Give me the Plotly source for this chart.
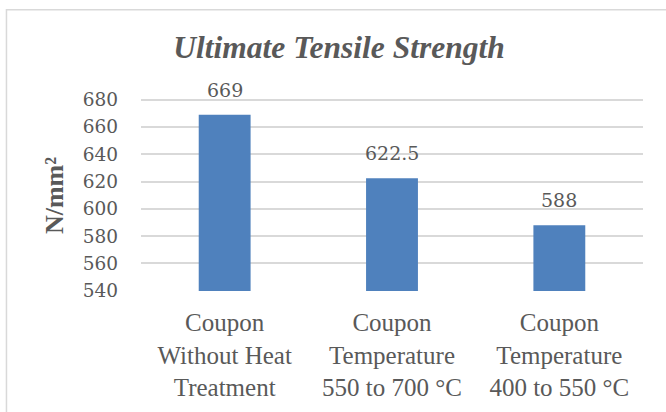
import plotly.graph_objects as go

# Ultimate tensile strength per coupon condition
categories = [
    "Coupon<br>Without Heat<br>Treatment",
    "Coupon<br>Temperature<br>550 to 700 °C",
    "Coupon<br>Temperature<br>400 to 550 °C",
]
uts_values = [669, 622.5, 588]
value_labels = ["669", "622.5", "588"]
y_ticks = [540, 560, 580, 600, 620, 640, 660, 680]

BAR_COLOR = "#4F81BD"
GRID_COLOR = "#D9D9D9"
TEXT_COLOR = "#595959"
NUM_FONT = "DejaVu Serif"
SERIF = "Liberation Serif"

fig = go.Figure()
fig.add_trace(go.Bar(
    x=categories,
    y=uts_values,
    marker=dict(color=BAR_COLOR, line=dict(width=0)),
    width=0.31,
    hoverinfo="skip",
))

# value labels above each bar
for cat, val, lab in zip(categories, uts_values, value_labels):
    fig.add_annotation(
        x=cat, y=val, text=lab, showarrow=False,
        yanchor="bottom", yshift=12,
        font=dict(family=NUM_FONT, size=19, color=TEXT_COLOR),
    )

# vertical axis title
fig.add_annotation(
    xref="paper", yref="paper", x=-0.171, y=0.49,
    xanchor="center", yanchor="middle",
    text="<b>N/mm²</b>", textangle=-90, showarrow=False,
    font=dict(family=SERIF, size=26, color=TEXT_COLOR),
)

# chart-area border
fig.add_shape(
    type="rect", xref="paper", yref="paper",
    x0=-0.268, x1=1.5, y0=-1.0, y1=1.45,
    line=dict(color=GRID_COLOR, width=1.5),
    fillcolor="rgba(0,0,0,0)", layer="below",
)

fig.update_layout(
    width=666, height=412,
    margin=dict(l=141, r=23, t=97, b=121),
    paper_bgcolor="white", plot_bgcolor="white",
    showlegend=False,
    title=dict(
        text="<b><i>Ultimate Tensile Strength</i></b>",
        xref="container", yref="container",
        x=0.509, y=0.886, xanchor="center", yanchor="middle",
        font=dict(family=SERIF, size=31.5, color=TEXT_COLOR),
    ),
)
fig.update_xaxes(
    showline=False, showgrid=False, zeroline=False, ticks="",
    tickfont=dict(family=SERIF, size=25, color=TEXT_COLOR),
    ticklabelstandoff=14,
)
fig.update_yaxes(
    range=[539.8, 682],
    tickvals=y_ticks,
    ticktext=[str(t) for t in y_ticks],
    showgrid=True, gridcolor=GRID_COLOR, gridwidth=1.5,
    zeroline=False, showline=False, ticks="",
    tickfont=dict(family=NUM_FONT, size=18.5, color=TEXT_COLOR),
    ticklabelstandoff=22,
)

fig.write_html("out.html")
